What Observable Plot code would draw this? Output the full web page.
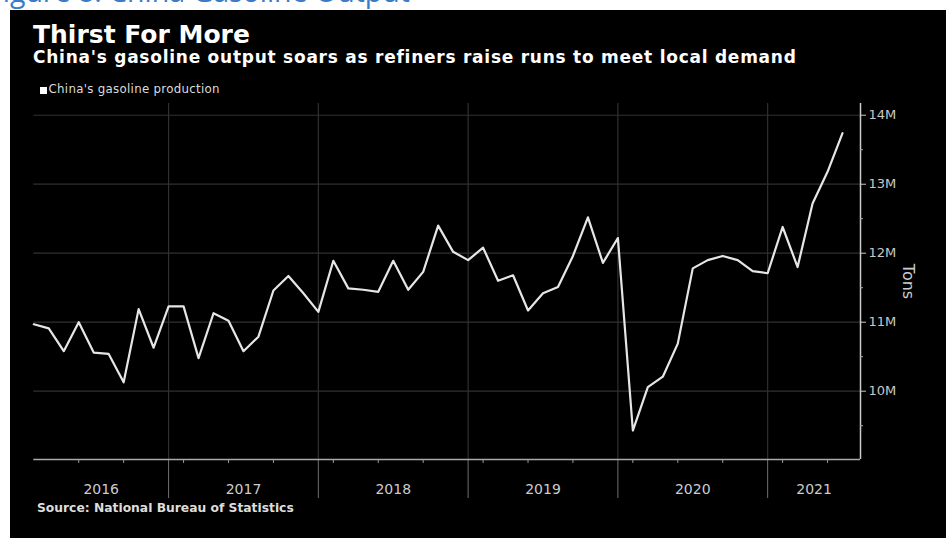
<!DOCTYPE html>
<html><head><meta charset="utf-8">
<script src="https://cdn.jsdelivr.net/npm/d3@7"></script>
<script src="https://cdn.jsdelivr.net/npm/@observablehq/plot@0.6"></script>
<style>
html,body{margin:0;padding:0;background:#fff;width:946px;height:538px;overflow:hidden;position:relative;font-family:"DejaVu Sans",sans-serif;}
#hdr{position:absolute;left:-12px;top:-24px;font:28.5px "Open Sans",sans-serif;color:#3b7bc8;white-space:nowrap;line-height:30px;}
#panel{position:absolute;left:10px;top:10px;width:936px;height:528px;background:#000;}
.t{position:absolute;white-space:nowrap;color:#fff;font-family:"DejaVu Sans",sans-serif;}
#title{left:33px;top:24.4px;font-size:25px;line-height:22px;font-weight:bold;}
#sub{left:33px;top:48.8px;font-size:17px;line-height:17px;font-weight:bold;letter-spacing:0.75px;}
#legsq{position:absolute;left:40px;top:87px;width:7px;height:7px;background:#fff;}
#leg{left:48.5px;top:84.3px;font-size:11.8px;line-height:11.8px;color:#ddd;letter-spacing:0.3px;}
#src{left:37px;top:501.6px;font-size:12.3px;line-height:12.3px;font-weight:bold;color:#ddd;}
#chart{position:absolute;left:10px;top:95px;}
</style></head>
<body>
<div id="hdr">Figure 8: China Gasoline Output</div>
<div id="panel"></div>
<div class="t" id="title">Thirst For More</div>
<div class="t" id="sub">China's gasoline output soars as refiners raise runs to meet local demand</div>
<div id="legsq"></div>
<div class="t" id="leg">China's gasoline production</div>
<div class="t" id="src">Source: National Bureau of Statistics</div>
<div id="chart"></div>
<script>
// China's gasoline production, million tons (equally spaced reporting periods)
const values = [10.97,10.91,10.58,11.00,10.56,10.54,10.13,11.19,10.63,11.23,
  11.23,10.48,11.13,11.02,10.58,10.79,11.46,11.67,11.42,11.15,
  11.89,11.49,11.47,11.44,11.89,11.47,11.73,12.40,12.02,11.90,
  12.08,11.60,11.68,11.17,11.42,11.51,11.96,12.52,11.86,12.22,
  9.43,10.06,10.21,10.69,11.78,11.90,11.96,11.90,11.74,11.71,
  12.38,11.80,12.72,13.18,13.74];
const years = ["2016","2017","2018","2019","2020","2021"];
const yearStarts = [0, 9, 19, 29, 39, 49];
const yearEnds = [9, 19, 29, 39, 49, 55.2];
const yearBreaks = [9, 19, 29, 39, 49];
const quarterTicks = [3,6,10,13,16,20,23,26,30,33,36,40,43,46,50,53];
const yTicks = [10, 11, 12, 13, 14];
const yMinorTicks = [9.5, 10.5, 11.5, 12.5, 13.5];
const xDomain = [0, 55.2];
const yDomain = [9.01, 14.17];

const W = 936, H = 415, mL = 23.3, mR = 86, mT = 8, mB = 51;
const pxY = (H - mT - mB) / (yDomain[1] - yDomain[0]);
const pxX = (W - mL - mR) / (xDomain[1] - xDomain[0]);

const data = values.map((v, i) => ({p: i, v}));
const yearData = years.map((label, i) => ({label, mid: (yearStarts[i] + yearEnds[i]) / 2}));

const chart = Plot.plot({
  width: W, height: H,
  marginLeft: mL, marginRight: mR, marginTop: mT, marginBottom: mB,
  style: {background: "transparent", color: "#c8c8c8", fontFamily: "DejaVu Sans, sans-serif", fontSize: "13px", overflow: "visible"},
  x: {domain: xDomain, axis: null},
  y: {domain: yDomain, axis: "right", ticks: yTicks, tickFormat: d => d + "M", tickSize: 5, tickPadding: 3, label: null},
  marks: [
    Plot.ruleY(yTicks, {stroke: "#303030", strokeWidth: 1.2}),
    Plot.ruleX(yearBreaks, {stroke: "#303030", strokeWidth: 1.2}),
    Plot.ruleX(yearBreaks, {y1: yDomain[0], y2: yDomain[0] - 39 / pxY, stroke: "#707070"}),
    Plot.ruleX(quarterTicks, {y1: yDomain[0], y2: yDomain[0] - 4 / pxY, stroke: "#999"}),
    Plot.ruleY([yDomain[0]], {stroke: "#aaa", strokeWidth: 1.5}),
    Plot.ruleX([xDomain[1]], {stroke: "#ccc", strokeWidth: 1.5}),
    Plot.ruleY(yMinorTicks, {x1: xDomain[1], x2: xDomain[1] + 3 / pxX, stroke: "#aaa"}),
    Plot.line(data, {x: "p", y: "v", stroke: "#e6e6e6", strokeWidth: 2.2}),
    Plot.text(yearData, {x: "mid", y: () => yDomain[0], dy: 30, text: "label", fill: "#ccc", fontSize: 14}),
    Plot.text(["Tons"], {text: d => d, frameAnchor: "right", dx: 48, rotate: 90, textAnchor: "middle", fontSize: 16, fill: "#ccc"})
  ]
});
document.getElementById("chart").appendChild(chart);
</script>
</body></html>
